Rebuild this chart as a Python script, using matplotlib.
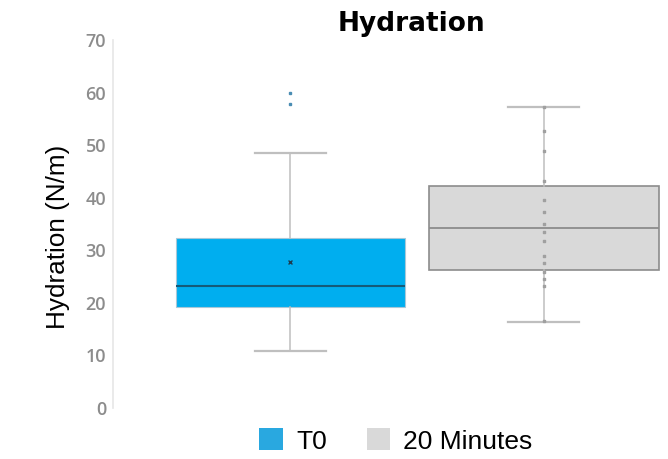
import matplotlib.pyplot as plt
from matplotlib.patches import Patch

# datos
series = ["T0", "20 Minutes"]
q1 = [19.2, 26.2]
medianas = [23.2, 34.3]
q3 = [32.3, 42.2]
bigote_min = [10.8, 16.4]
bigote_max = [48.5, 57.2]
medias = [27.8, 35.0]
atipicos_t0 = [57.8, 59.9]
puntos_20min = [57.2, 52.6, 48.9, 43.2, 39.5, 37.3, 35.0, 33.5, 31.8, 29.0,
                27.6, 25.9, 24.5, 23.2, 16.5]
yticks = [0, 10, 20, 30, 40, 50, 60, 70]

azul = "#00AEEF"
gris = "#D9D9D9"

fig = plt.figure(figsize=(6.68, 4.59), dpi=100)
ax = fig.add_axes([113 / 668, 51 / 459, 550 / 668, 368 / 459])

stats = []
for i, nombre in enumerate(series):
    stats.append({
        "label": nombre, "q1": q1[i], "med": medianas[i], "q3": q3[i],
        "whislo": bigote_min[i], "whishi": bigote_max[i], "mean": medias[i],
        "fliers": atipicos_t0 if i == 0 else [],
    })

bp = ax.bxp(stats, positions=[1, 2], widths=0.905, patch_artist=True,
            showmeans=False, showfliers=True,
            whiskerprops=dict(color="#BFBFBF", linewidth=1.1),
            capprops=dict(color="#BFBFBF", linewidth=1.6),
            flierprops=dict(marker="s", markersize=2, markerfacecolor="#4A8DB3",
                            markeredgecolor="#4A8DB3", linestyle="none"))
bp["caps"][0].set_xdata([0.86, 1.14])
bp["caps"][1].set_xdata([0.86, 1.14])
bp["caps"][2].set_xdata([1.86, 2.14])
bp["caps"][3].set_xdata([1.86, 2.14])

bp["boxes"][0].set(facecolor=azul, edgecolor="#A8C8D8", linewidth=0.8)
bp["boxes"][1].set(facecolor=gris, edgecolor="#8C8C8C", linewidth=1.2)
bp["medians"][0].set(color="#155A78", linewidth=1.5)
bp["medians"][1].set(color="#8C8C8C", linewidth=1.3)

# media de T0 (marca x) y puntos interiores de 20 Minutes
ax.scatter([1], [medias[0]], marker="x", s=8, color="#1F3B4D", linewidths=1, zorder=5)
ax.scatter([2] * len(puntos_20min), puntos_20min, marker="s", s=3,
           color="#A0A0A0", zorder=5)

ax.set_xlim(0.3, 2.47)
ax.set_ylim(0, 70)
ax.set_yticks(yticks)
ax.set_xticks([])
ax.tick_params(axis="y", length=0, pad=5, labelsize=13, labelcolor="#8C8C8C")
for t in ax.get_yticklabels():
    t.set_fontfamily("Open Sans")
    t.set_fontweight("semibold")
for s in ["top", "right", "bottom"]:
    ax.spines[s].set_visible(False)
ax.spines["left"].set_color("#E6E6E6")
ax.spines["left"].set_linewidth(1.2)

ax.set_ylabel("Hydration (N/m)", fontsize=18.8, family="Liberation Sans", color="black")
ax.yaxis.set_label_coords(-0.078, 0.465)

fig.text(411 / 668, 1 - 24 / 459, "Hydration", ha="center", va="center",
         fontsize=19, fontweight="heavy", family="DejaVu Sans")

handles = [Patch(facecolor="#29A8E0", edgecolor="none"),
           Patch(facecolor=gris, edgecolor="none")]
fig.legend(handles, series, loc="center", bbox_to_anchor=(396 / 668, 1 - 441 / 459),
           ncol=2, frameon=False, prop={"family": "Liberation Sans", "size": 19},
           handlelength=0.9, handleheight=0.9, handletextpad=0.5, columnspacing=1.5)

plt.savefig("out.png", dpi=100)
